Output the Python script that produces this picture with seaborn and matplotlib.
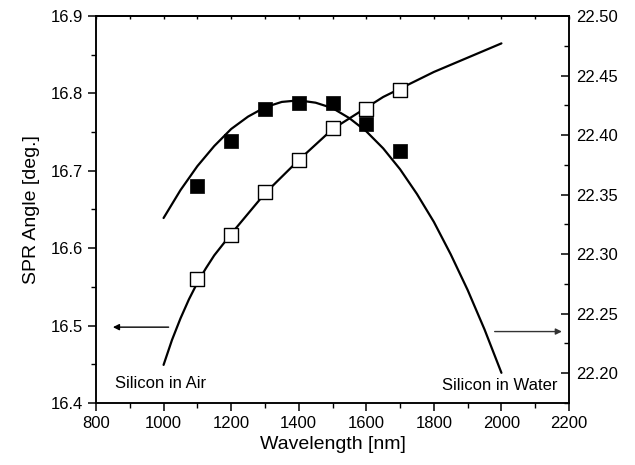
import numpy as np
import pandas as pd
import matplotlib
matplotlib.use("Agg")
import matplotlib.pyplot as plt
from matplotlib.ticker import MultipleLocator
import seaborn as sns

# ---- data ----
wavelength = [1100, 1200, 1300, 1400, 1500, 1600, 1700]
air_angle = [16.681, 16.739, 16.780, 16.788, 16.788, 16.761, 16.7255]
water_angle = [22.279, 22.316, 22.352, 22.379, 22.406, 22.422, 22.438]

air_fit_x = [1000, 1050, 1100, 1150, 1200, 1250, 1300, 1350, 1400, 1450, 1500,
             1550, 1600, 1650, 1700, 1750, 1800, 1850, 1900, 1950, 2000]
air_fit = [16.639, 16.675, 16.706, 16.732, 16.754, 16.770, 16.782, 16.789, 16.791,
           16.788, 16.781, 16.768, 16.751, 16.729, 16.702, 16.670, 16.634, 16.592,
           16.546, 16.495, 16.439]

water_fit_x = [1000, 1025, 1050, 1075, 1100, 1125, 1150, 1175, 1200, 1250, 1300,
               1350, 1400, 1450, 1500, 1550, 1600, 1650, 1700, 1750, 1800, 1850,
               1900, 1950, 2000]
water_fit = [22.207, 22.228, 22.246, 22.262, 22.276, 22.288, 22.299, 22.308, 22.317,
             22.334, 22.351, 22.365, 22.379, 22.392, 22.405, 22.414, 22.423, 22.432,
             22.439, 22.446, 22.453, 22.459, 22.465, 22.471, 22.477]

x_ticks = [800, 1000, 1200, 1400, 1600, 1800, 2000, 2200]
left_ticks = [16.4, 16.5, 16.6, 16.7, 16.8, 16.9]
right_ticks = [22.20, 22.25, 22.30, 22.35, 22.40, 22.45, 22.50]

sns.set_theme(style="ticks")
plt.rcParams["font.family"] = ["Liberation Sans", "DejaVu Sans"]
plt.rcParams["axes.linewidth"] = 1.1
for k in ("text.color", "axes.labelcolor", "xtick.color", "ytick.color",
          "xtick.labelcolor", "ytick.labelcolor", "axes.edgecolor"):
    plt.rcParams[k] = "black"

W, H = 635, 465
fig = plt.figure(figsize=(W / 100, H / 100), dpi=100)
L, R, T, B = 96, 569, 16, 403
ax = fig.add_axes([L / W, 1 - B / H, (R - L) / W, (B - T) / H])
ax2 = ax.twinx()

pts = pd.DataFrame({"wl": wavelength, "air": air_angle, "water": water_angle})
afit = pd.DataFrame({"wl": air_fit_x, "v": air_fit})
wfit = pd.DataFrame({"wl": water_fit_x, "v": water_fit})

sns.lineplot(data=afit, x="wl", y="v", ax=ax, color="black", lw=1.6,
             estimator=None, sort=False, zorder=2)
sns.scatterplot(data=pts, x="wl", y="air", ax=ax, marker="s", s=100,
                color="black", edgecolor="black", linewidth=0.5, zorder=3)

sns.lineplot(data=wfit, x="wl", y="v", ax=ax2, color="black", lw=1.6,
             estimator=None, sort=False, zorder=2)
sns.scatterplot(data=pts, x="wl", y="water", ax=ax2, marker="s", s=90,
                facecolor="white", edgecolor="black", linewidth=1.0, zorder=3)

ax.set_xlim(800, 2200)
ax.set_ylim(16.4, 16.9)
ax2.set_ylim(22.175, 22.50)

ax.set_xticks(x_ticks)
ax.set_xticklabels([str(t) for t in x_ticks])
ax.xaxis.set_minor_locator(MultipleLocator(100))
ax.set_yticks(left_ticks)
ax.set_yticklabels([f"{t:.1f}" for t in left_ticks])
ax.yaxis.set_minor_locator(MultipleLocator(0.05))
ax2.set_yticks(right_ticks)
ax2.set_yticklabels([f"{t:.2f}" for t in right_ticks])
ax2.yaxis.set_minor_locator(MultipleLocator(0.025))

ax.tick_params(axis="x", which="major", direction="out", length=6, width=1.1,
               labelsize=12, pad=3, colors="black")
ax.tick_params(axis="x", which="minor", direction="out", length=3.5, width=1.0)
ax.tick_params(axis="y", which="major", direction="out", length=6, width=1.1,
               labelsize=12, pad=3, colors="black", right=False)
ax.tick_params(axis="y", which="minor", direction="out", length=3.5, width=1.0, right=False)
ax2.tick_params(axis="y", which="major", direction="in", length=6, width=1.1,
                labelsize=12, pad=5, colors="black")
ax2.tick_params(axis="y", which="minor", direction="in", length=3.5, width=1.0)

top = ax.secondary_xaxis("top")
top.set_xticks(list(range(800, 2201, 100)))
top.set_xticklabels([])
top.tick_params(direction="in", length=2.5, width=1.0, colors="black")

for a in (ax, ax2):
    for s in a.spines.values():
        s.set_visible(True)
        s.set_color("black")
        s.set_linewidth(1.1)

ax.set_xlabel("Wavelength [nm]", fontsize=14, labelpad=4, color="black")
ax.set_ylabel("SPR Angle [deg.]", fontsize=14, labelpad=8, color="black")
ax2.set_ylabel("")

ax.annotate("", xy=(850, 16.498), xytext=(1015, 16.498),
            arrowprops=dict(arrowstyle="-|>", color="black", lw=1.0,
                            mutation_scale=9, shrinkA=0, shrinkB=0))
ax2.annotate("", xy=(2179, 22.235), xytext=(1980, 22.235),
             arrowprops=dict(arrowstyle="-|>", color="#333333", lw=1.0,
                             mutation_scale=9, shrinkA=0, shrinkB=0))

ax.text(856, 16.425, "Silicon in Air", fontsize=12, va="center", ha="left", color="black")
ax.text(2166, 16.422, "Silicon in Water", fontsize=12, va="center", ha="right", color="black")

fig.savefig("out.png", dpi=100)
